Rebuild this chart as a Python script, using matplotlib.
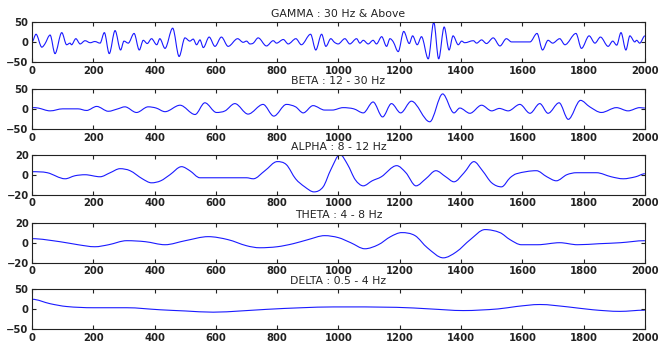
import matplotlib
matplotlib.use("Agg")
import matplotlib.pyplot as plt
from matplotlib.path import Path
from matplotlib.patches import PathPatch

# values (sample index, amplitude)
gamma_x = [0, 13, 32, 42, 59, 75, 97, 113, 124, 129, 143, 157, 173, 190, 205, 222,
           236, 252, 271, 289, 300, 314, 333, 350, 363, 376, 390, 407, 417, 434,
           459, 480, 499, 515, 526, 537, 548, 559, 578, 597, 618, 640, 671, 689,
           700, 711, 722, 738, 765, 787, 798, 820, 836, 861, 879, 909, 926, 945,
           959, 975, 987, 999, 1021, 1037, 1059, 1070, 1081, 1097, 1113, 1124,
           1141, 1157, 1168, 1179, 1195, 1213, 1231, 1242, 1257, 1271, 1293,
           1311, 1327, 1345, 1361, 1374, 1391, 1402, 1412, 1440, 1451, 1467,
           1483, 1505, 1527, 1548, 1565, 1625, 1648, 1666, 1684, 1699, 1722,
           1739, 1775, 1793, 1818, 1837, 1855, 1880, 1895, 1908, 1922, 1938,
           1951, 1967, 1973, 1983, 2000]
gamma_y = [0, 19, -13, -5, 17, -29, 23, -7, -3, -7, 8, -5, 3, -2, 1, -3,
           23, -29, 28, -20, 2, -3, 21, -20, 4, -4, 8, -7, 8, -16,
           34, -36, 10, 2, 7, -7, 5, -14, 12, -11, 12, -11, 8, -1,
           2, -5, -3, 10, -10, 3, -3, 6, -5, 8, -7, 19, -20, 19,
           -11, 8, -1, -5, 8, -5, 8, -3, 4, -5, 4, -5,
           13, -11, 8, 0, -24, 26, -4, 15, -7, 13, -42,
           49, -42, 37, -20, 15, -7, 2, -2, 3, -3, 5,
           -4, 10, -10, 8, 0, 0, 21, -20, 4, -3, 8,
           -7, 21, -16, 15, -3, 12, -11, 2, -8, 23, -20,
           15, 0, 4, -3, 15]

beta_x = [0, 20, 59, 100, 150, 178, 211, 249, 280, 303, 341, 379, 405, 434, 483,
          532, 564, 602, 630, 662, 705, 754, 789, 830, 860, 885, 917, 955, 980,
          1015, 1050, 1081, 1113, 1144, 1173, 1203, 1238, 1298, 1340, 1377,
          1396, 1429, 1467, 1500, 1525, 1554, 1592, 1625, 1657, 1684, 1720,
          1750, 1790, 1820, 1858, 1907, 1945, 1983, 2000]
beta_y = [3, 2, -5, 0, 0, -4, 6, -6, 0, 5, -9, 5, 2, -7, 9,
          -14, 15, -9, -5, 13, -13, 11, -18, 11, 5, -10, 8, -3, -3,
          3, 0, -10, 17, -20, 13, -10, 19, -32, 37, -10,
          2, -11, 9, -5, 1, -5, 11, -11, 13, -11, 15,
          -26, 21, 5, -9, 3, -5, 3, 2]

alpha_x = [0, 50, 108, 140, 173, 222, 255, 287, 320, 360, 390, 420, 450, 488,
           515, 548, 600, 650, 700, 722, 760, 800, 830, 860, 890, 920, 950, 975,
           1005, 1030, 1055, 1081, 1110, 1140, 1190, 1220, 1253, 1285, 1318,
           1350, 1377, 1410, 1442, 1470, 1500, 1532, 1560, 1581, 1646, 1680,
           1711, 1745, 1777, 1842, 1890, 1929, 1970, 2000]
alpha_y = [3, 2, -4, -1, 0, -2, 2, 6, 4, -4, -8, -6, 0, 8,
           4, -3, -3, -3, -3, -4, 4, 13, 10, -4, -12, -17, -12, 5,
           20, 10, -5, -11, -6, -2, 9, 2, -11, -4, 4,
           -2, -7, 2, 13, 4, -8, -12, -3, 1, 4, -2,
           -6, 0, 2, 2, -2, -4, -2, 1]

theta_x = [0, 91, 150, 205, 250, 309, 370, 434, 500, 575, 640, 700, 743, 800,
           852, 900, 955, 1000, 1040, 1086, 1130, 1170, 1206, 1250, 1290, 1342,
           1385, 1430, 1478, 1527, 1560, 1597, 1650, 1722, 1780, 1850, 1920, 2000]
theta_y = [4, 1, -2, -4, -2, 2, 1, -2, 2, 6, 3, -3, -5, -4,
           -1, 3, 7, 5, 0, -6, -2, 6, 10, 7, -5, -15,
           -9, 3, 13, 10, 3, -2, -2, 0, -2, -1, 0, 2]

delta_x = [0, 59, 113, 200, 309, 417, 500, 591, 680, 765, 880, 983, 1190, 1300,
           1407, 1520, 1580, 1657, 1750, 1830, 1918, 2000]
delta_y = [24, 13, 6, 3, 3, -2, -5, -8, -5, -1, 3, 5, 4, 0,
           -4, 0, 6, 11, 5, -2, -6, -3]

titles = ['GAMMA : 30 Hz & Above', 'BETA : 12 - 30 Hz', 'ALPHA : 8 - 12 Hz',
          'THETA : 4 - 8 Hz', 'DELTA : 0.5 - 4 Hz']
ylims = [50, 50, 20, 20, 50]
series = [(gamma_x, gamma_y), (beta_x, beta_y), (alpha_x, alpha_y),
          (theta_x, theta_y), (delta_x, delta_y)]


def smooth_line(ax, xs, ys, **kw):
    # bezier path through every read point; flat tangent at peaks/troughs
    n = len(xs)
    m = []
    for i in range(n):
        if i == 0 or i == n - 1:
            m.append(0.0)
        elif (ys[i] - ys[i - 1]) * (ys[i + 1] - ys[i]) <= 0:
            m.append(0.0)
        else:
            m.append((ys[i + 1] - ys[i - 1]) / (xs[i + 1] - xs[i - 1]))
    verts = [(xs[0], ys[0])]
    codes = [Path.MOVETO]
    for i in range(n - 1):
        dx = (xs[i + 1] - xs[i]) / 3
        verts += [(xs[i] + dx, ys[i] + m[i] * dx),
                  (xs[i + 1] - dx, ys[i + 1] - m[i + 1] * dx),
                  (xs[i + 1], ys[i + 1])]
        codes += [Path.CURVE4] * 3
    ax.add_patch(PathPatch(Path(verts, codes), fill=False, **kw))


plt.rcParams['font.family'] = ['DejaVu Sans']

fig = plt.figure(figsize=(6.59, 3.45), dpi=100)
bottoms = [0.820, 0.626, 0.435, 0.238, 0.046]

for (xs, ys), title, lim, b in zip(series, titles, ylims, bottoms):
    ax = fig.add_axes([0.0486, b, 0.930, 0.117])
    smooth_line(ax, xs, ys, edgecolor='#1a1aff', lw=0.8)
    ax.set_xlim(0, 2000)
    ax.set_ylim(-lim, lim)
    ax.set_xticks(range(0, 2001, 200))
    ax.set_yticks([-lim, 0, lim])
    ax.tick_params(direction='in', length=3, width=0.8, top=True, right=True,
                   labelsize=7.2, pad=2.5, colors='#222222')
    for lab in ax.get_xticklabels() + ax.get_yticklabels():
        lab.set_fontweight('bold')
    for s in ax.spines.values():
        s.set_linewidth(0.8)
        s.set_color('#222222')
    ax.set_title(title, fontsize=7.8, pad=3.5, color='#222222')

fig.savefig('out.png', dpi=100)
